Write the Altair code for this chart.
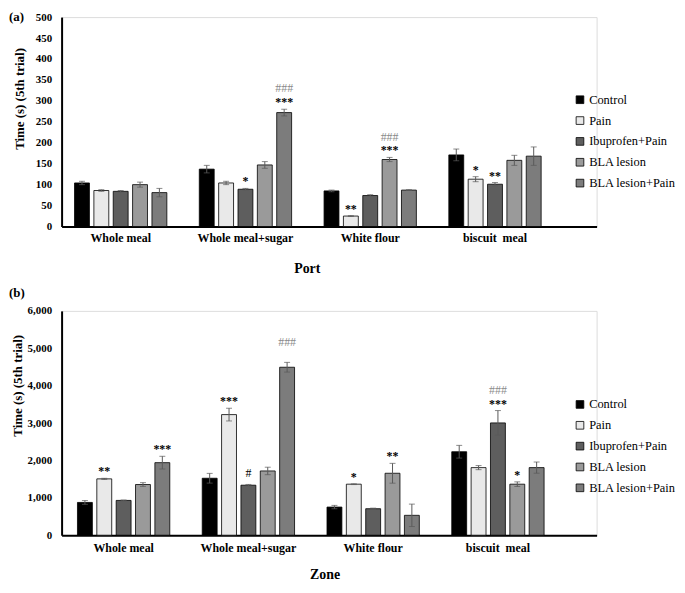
import altair as alt
import pandas as pd

groups = ["Whole meal", "Whole meal+sugar", "White flour", "biscuit\u00a0 meal"]
series = ["Control", "Pain", "Ibuprofen+Pain", "BLA lesion", "BLA lesion+Pain"]
fills = ["#000000", "#e9e9e9", "#5e5e5e", "#9a9a9a", "#7c7c7c"]

# Panel (a) Port
port_mean = {
    "Control": [104, 137, 85, 171],
    "Pain": [86, 104, 25, 113],
    "Ibuprofen+Pain": [84, 89, 74, 101],
    "BLA lesion": [100, 147, 160, 158],
    "BLA lesion+Pain": [81, 272, 87, 168],
}
port_err = {
    "Control": [4, 9, 2, 14],
    "Pain": [2, 4, 1, 6],
    "Ibuprofen+Pain": [2, 2, 2, 4],
    "BLA lesion": [6, 8, 5, 12],
    "BLA lesion+Pain": [10, 8, 1, 22],
}
port_stars = [
    ("Whole meal+sugar", "Ibuprofen+Pain", "*"),
    ("Whole meal+sugar", "BLA lesion+Pain", "***"),
    ("White flour", "Pain", "**"),
    ("White flour", "BLA lesion", "***"),
    ("biscuit\u00a0 meal", "Pain", "*"),
    ("biscuit\u00a0 meal", "Ibuprofen+Pain", "**"),
]
port_hash_top = [
    ("Whole meal+sugar", "BLA lesion+Pain", "###"),
    ("White flour", "BLA lesion", "###"),
]
port_hash_low = []

# Panel (b) Zone
zone_mean = {
    "Control": [877, 1524, 753, 2233],
    "Pain": [1507, 3226, 1365, 1808],
    "Ibuprofen+Pain": [931, 1338, 709, 3004],
    "BLA lesion": [1356, 1719, 1657, 1365],
    "BLA lesion+Pain": [1941, 4493, 532, 1808],
}
zone_err = {
    "Control": [50, 130, 45, 170],
    "Pain": [15, 170, 10, 55],
    "Ibuprofen+Pain": [10, 20, 15, 330],
    "BLA lesion": [50, 100, 265, 62],
    "BLA lesion+Pain": [170, 130, 300, 150],
}
zone_stars = [
    ("Whole meal", "Pain", "**"),
    ("Whole meal", "BLA lesion+Pain", "***"),
    ("Whole meal+sugar", "Pain", "***"),
    ("White flour", "Pain", "*"),
    ("White flour", "BLA lesion", "**"),
    ("biscuit\u00a0 meal", "Ibuprofen+Pain", "***"),
    ("biscuit\u00a0 meal", "BLA lesion", "*"),
]
zone_hash_top = [
    ("Whole meal+sugar", "BLA lesion+Pain", "###"),
    ("biscuit\u00a0 meal", "Ibuprofen+Pain", "###"),
]
zone_hash_low = [
    ("Whole meal+sugar", "Ibuprofen+Pain", "#"),
]

FONT = "Liberation Serif"


def panel(means, errs, stars, hash_top, hash_low, ymax, ystep, yfmt,
          width, height, pad_outer, align, ylabel_pad, ytitle_pad, ytitle_y,
          xtitle, xtitle_x, xlabel_pad, xtitle_pad, plabel, plabel_x, plabel_y,
          legend_x, legend_y):
    rows = []
    for s in series:
        for i, g in enumerate(groups):
            m = means[s][i]
            e = errs[s][i]
            rows.append({"group": g, "series": s, "value": m, "lo": m - e, "hi": m + e})
    df = pd.DataFrame(rows)
    hi_lookup = {(r["group"], r["series"]): r["hi"] for r in rows}

    def ann(lst):
        return pd.DataFrame([{"group": g, "series": s, "label": t, "hi": hi_lookup[(g, s)]}
                             for g, s, t in lst])

    x = alt.X("group:N", sort=groups,
              scale=alt.Scale(domain=groups, paddingInner=0.26, paddingOuter=pad_outer, align=align),
              axis=alt.Axis(title=xtitle, labelAngle=0, ticks=False, tickSize=0,
                            labelPadding=xlabel_pad, titlePadding=xtitle_pad, titleX=xtitle_x,
                            domainColor="black", domainWidth=2,
                            labelFont=FONT, labelFontWeight="bold", labelFontSize=12, labelColor="black",
                            titleFont=FONT, titleFontWeight="bold", titleFontSize=14, titleColor="black"))
    xo = alt.XOffset("series:N", sort=series,
                     scale=alt.Scale(domain=series, paddingInner=0.23, paddingOuter=0))
    y_axis = alt.Axis(title="Time (s) (5th trial)", values=list(range(0, ymax + 1, ystep)), format=yfmt,
                      grid=False, ticks=False, tickSize=0, labelPadding=ylabel_pad, labelOverlap=False,
                      titlePadding=ytitle_pad, titleY=ytitle_y,
                      domainColor="black", domainWidth=2,
                      labelFont=FONT, labelFontWeight="bold", labelFontSize=11, labelColor="black",
                      titleFont=FONT, titleFontWeight="bold", titleFontSize=13, titleColor="black")
    yscale = alt.Scale(domain=[0, ymax], nice=False, zero=True)

    def Y(field):
        return alt.Y(field, type="quantitative", scale=yscale, axis=y_axis)

    base = alt.Chart(df)
    bars = base.mark_bar(stroke="black", strokeWidth=0.8).encode(
        x=x, xOffset=xo,
        y=Y("value"),
        color=alt.Color("series:N", sort=series,
                        scale=alt.Scale(domain=series, range=fills),
                        legend=alt.Legend(title=None, orient="none", legendX=legend_x, legendY=legend_y,
                                          symbolType="square", symbolSize=60, symbolStrokeColor="black",
                                          symbolStrokeWidth=0.8, labelFont=FONT, labelFontSize=12.5,
                                          labelColor="black", labelOffset=3, rowPadding=8, padding=0)),
    )
    err_color = "#5a5a5a"
    rules = base.mark_rule(color=err_color, strokeWidth=1).encode(
        x=x, xOffset=xo, y=Y("lo"), y2="hi:Q")
    cap_hi = base.mark_tick(color=err_color, thickness=1, size=6).encode(
        x=x, xOffset=xo, y=Y("hi"))
    cap_lo = base.mark_tick(color=err_color, thickness=1, size=6).encode(
        x=x, xOffset=xo, y=Y("lo"))

    star_txt = alt.Chart(ann(stars)).mark_text(
        font=FONT, fontWeight="bold", fontSize=12, color="black", baseline="alphabetic", dy=-3
    ).encode(x=x, xOffset=xo, y=Y("hi"), text="label:N")
    hash_txt = alt.Chart(ann(hash_top)).mark_text(
        font=FONT, fontSize=12, color="#8a8a8a", baseline="alphabetic", dy=-17
    ).encode(x=x, xOffset=xo, y=Y("hi"), text="label:N")
    layers = [bars, rules, cap_hi, cap_lo, star_txt, hash_txt]
    if hash_low:
        hash_low_txt = alt.Chart(ann(hash_low)).mark_text(
            font=FONT, fontSize=12, color="black", baseline="alphabetic", dy=-8
        ).encode(x=x, xOffset=xo, y=Y("hi"), text="label:N")
        layers.append(hash_low_txt)
    lab = alt.Chart(pd.DataFrame({"t": [plabel]})).mark_text(
        font=FONT, fontWeight="bold", fontSize=13, color="black", align="left", baseline="middle"
    ).encode(x=alt.value(plabel_x), y=alt.value(plabel_y), text="t:N")
    layers.append(lab)
    return alt.layer(*layers).properties(width=width, height=height)


pa = panel(port_mean, port_err, port_stars, port_hash_top, port_hash_low, 500, 50, "d",
           width=539, height=211, pad_outer=0.274, align=0.189,
           ylabel_pad=10, ytitle_pad=9, ytitle_y=82,
           xtitle="Port", xtitle_x=247, xlabel_pad=6, xtitle_pad=18,
           plabel="(a)", plabel_x=-53, plabel_y=0, legend_x=516, legend_y=77)
pb = panel(zone_mean, zone_err, zone_stars, zone_hash_top, zone_hash_low, 6000, 1000, ",d",
           width=539, height=226, pad_outer=0.274, align=0.232,
           ylabel_pad=10, ytitle_pad=3, ytitle_y=75,
           xtitle="Zone", xtitle_x=265, xlabel_pad=7, xtitle_pad=15,
           plabel="(b)", plabel_x=-53, plabel_y=-18, legend_x=516, legend_y=88)

chart = alt.vconcat(pa, pb, spacing=10).resolve_scale(
    x="independent", y="independent", color="independent", xOffset="independent"
).properties(
    padding={"left": 0, "top": 0, "right": 0, "bottom": 0}
).configure_view(stroke=None).configure(font=FONT).configure_legend(
    labelFont=FONT, labelFontSize=12.5, labelColor="black"
).configure_axis(labelFont=FONT, titleFont=FONT, labelOverlap=False)

chart.save("out.html", embed_options={"renderer": "svg", "actions": False})
